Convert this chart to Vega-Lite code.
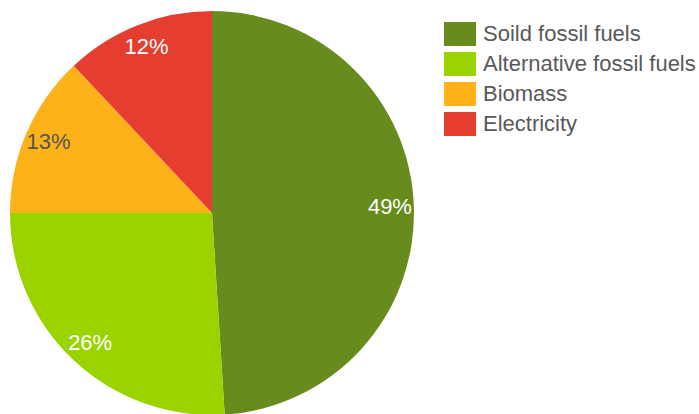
{
  "$schema": "https://vega.github.io/schema/vega-lite/v6.json",
  "width": 424,
  "height": 402,
  "autosize": {"type": "none"},
  "padding": {"left": 0, "top": 12, "right": 275, "bottom": 0},
  "background": "white",
  "config": {"view": {"stroke": null}, "font": "Liberation Sans"},
  "data": {
    "values": [
      {"idx": 1, "category": "Soild fossil fuels", "value": 49, "label": "49%"},
      {"idx": 2, "category": "Alternative fossil fuels", "value": 26, "label": "26%"},
      {"idx": 3, "category": "Biomass", "value": 13, "label": "13%"},
      {"idx": 4, "category": "Electricity", "value": 12, "label": "12%"}
    ]
  },
  "encoding": {
    "theta": {"field": "value", "type": "quantitative", "stack": true},
    "order": {"field": "idx", "type": "quantitative"}
  },
  "layer": [
    {
      "mark": {"type": "arc", "outerRadius": 202},
      "encoding": {
        "color": {
          "field": "category",
          "type": "nominal",
          "sort": ["Soild fossil fuels", "Alternative fossil fuels", "Biomass", "Electricity"],
          "scale": {
            "domain": ["Soild fossil fuels", "Alternative fossil fuels", "Biomass", "Electricity"],
            "range": ["#678b1c", "#9bd300", "#fdb21a", "#e53d2f"]
          },
          "legend": {
            "title": null,
            "orient": "none",
            "legendX": 444,
            "legendY": 6,
            "padding": 0,
            "symbolType": "M-1,-0.75H1V0.75H-1Z",
            "symbolSize": 1024,
            "symbolStrokeWidth": 0,
            "symbolOpacity": 1,
            "labelFontSize": 22,
            "labelFont": "Liberation Sans",
            "labelColor": "#595959",
            "labelOffset": 7,
            "rowPadding": 2,
            "labelLimit": 300
          }
        }
      }
    },
    {
      "mark": {"type": "text", "radius": 178, "fontSize": 22, "font": "Liberation Sans"},
      "encoding": {
        "text": {"field": "label"},
        "color": {
          "condition": {"test": "datum.category === 'Biomass'", "value": "#555555"},
          "value": "white"
        }
      }
    }
  ]
}
